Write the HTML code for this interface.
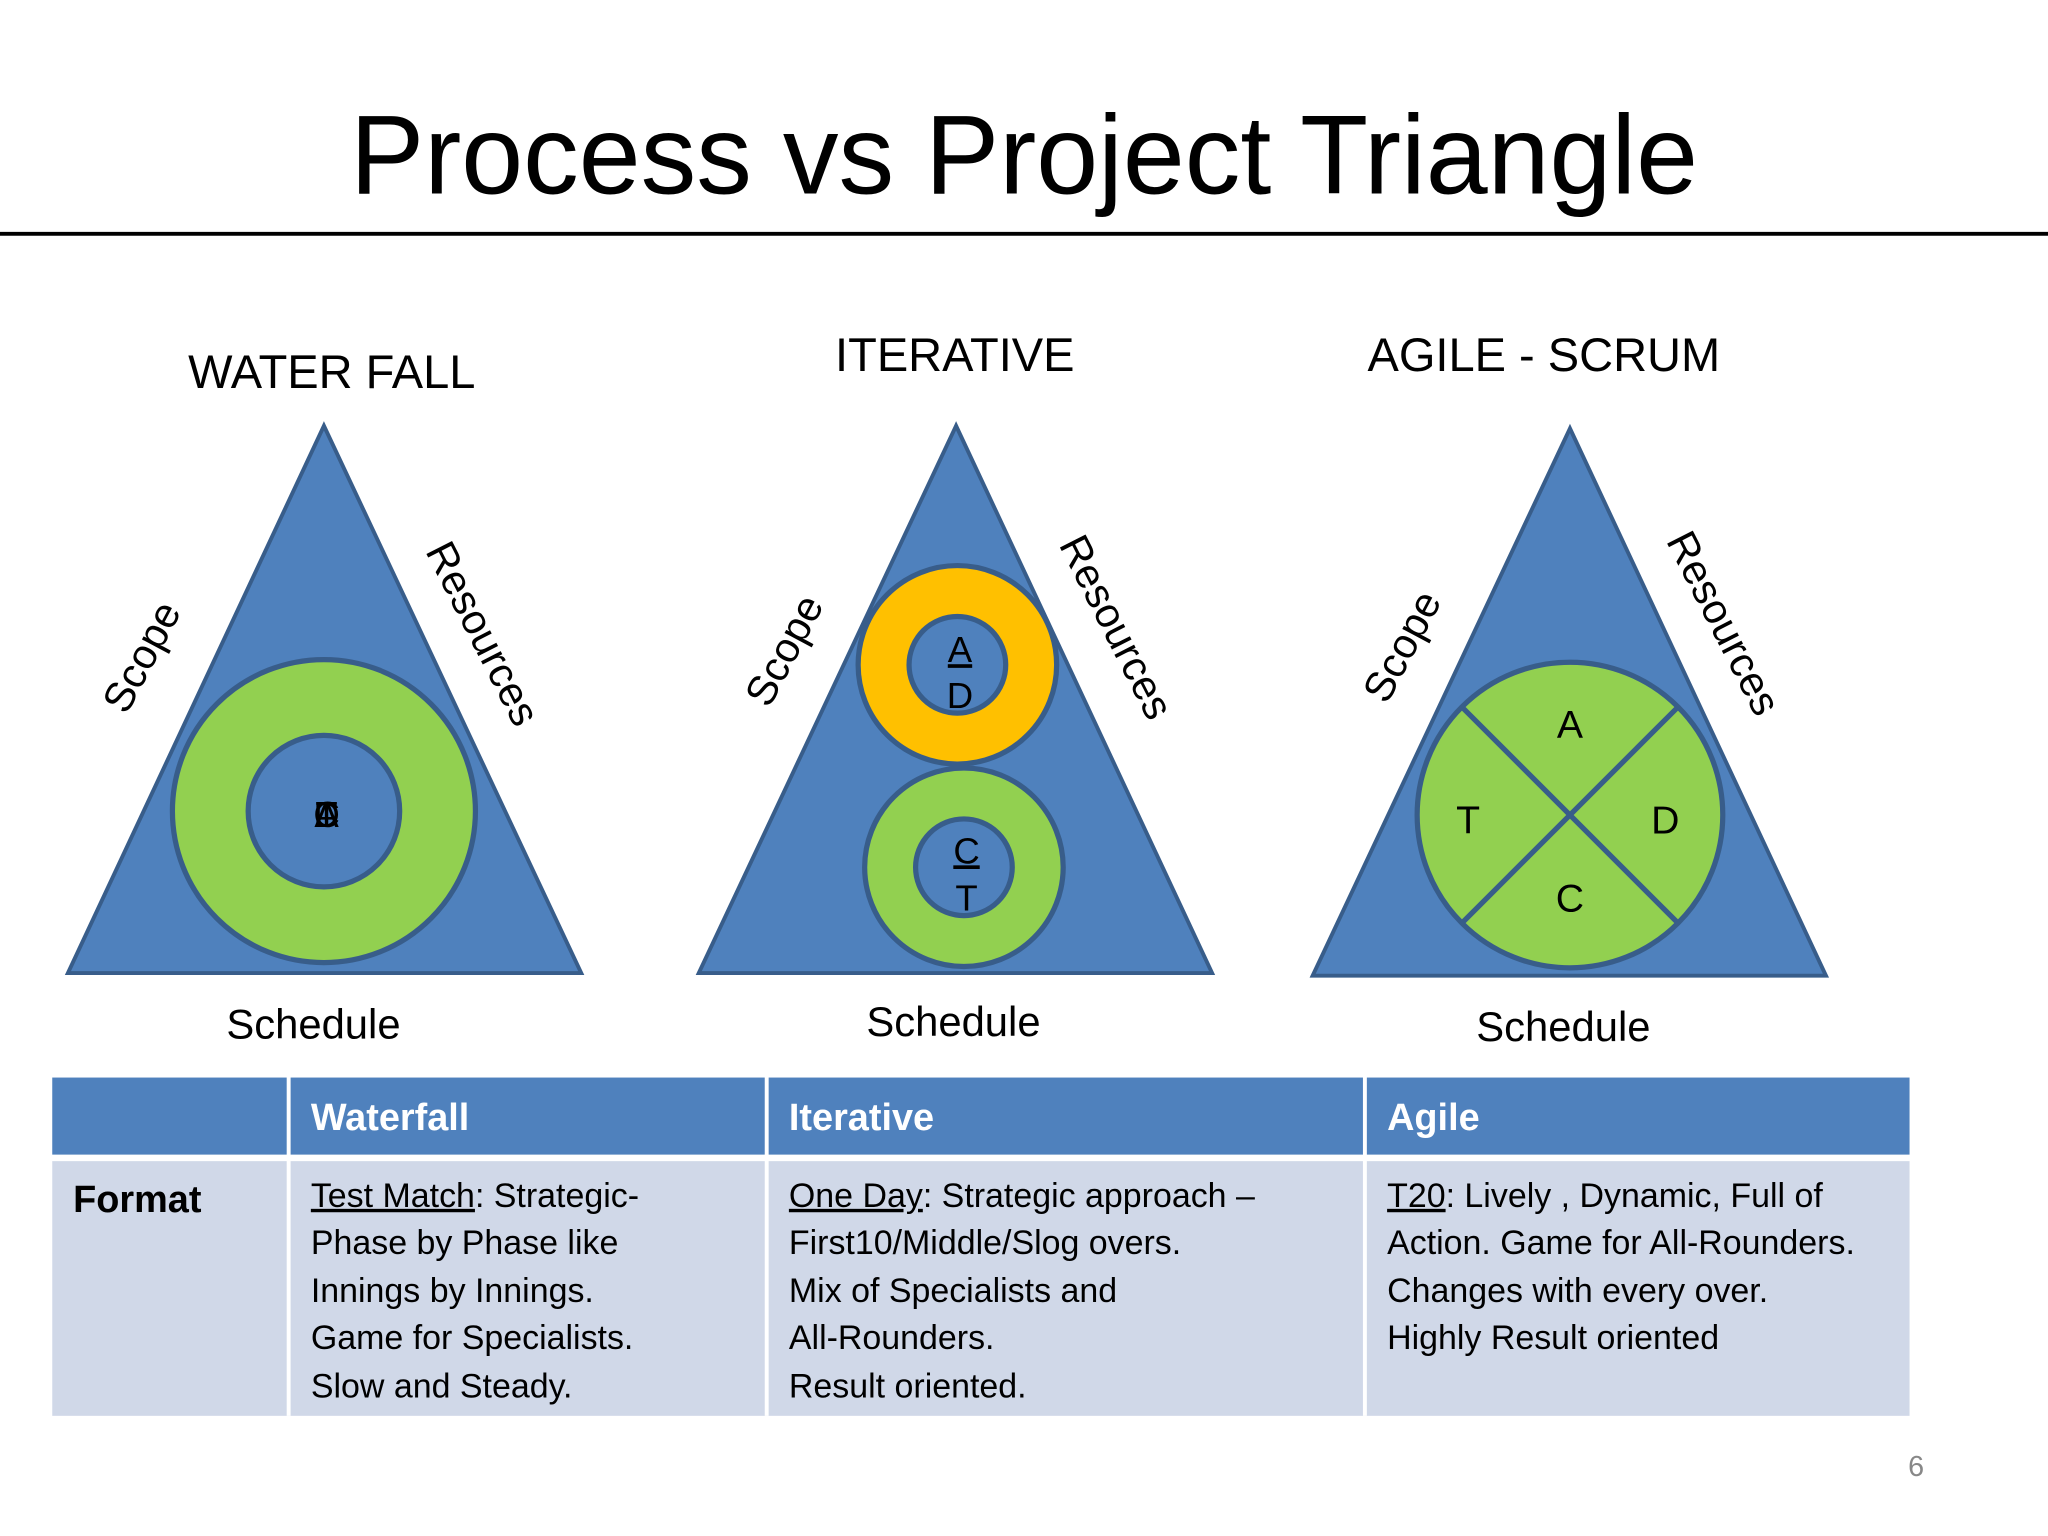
<!DOCTYPE html>
<html><head><meta charset="utf-8"><style>html,body{margin:0;padding:0;background:#fff}svg{display:block}</style></head>
<body>
<svg width="2048" height="1536" viewBox="0 0 1568 1176" xmlns="http://www.w3.org/2000/svg" font-family="'Liberation Sans', sans-serif">
<rect width="1568" height="1176" fill="#fff"/>
<text x="784" y="148" font-size="86" text-anchor="middle" textLength="1032" lengthAdjust="spacingAndGlyphs">Process vs Project Triangle</text>
<line x1="0" y1="179" x2="1568" y2="179" stroke="#000" stroke-width="3"/>
<g font-size="36">
<text x="254" y="297" text-anchor="middle">WATER FALL</text>
<text x="731" y="284" text-anchor="middle">ITERATIVE</text>
<text x="1182" y="284" text-anchor="middle">AGILE - SCRUM</text>
</g>
<g fill="#4f81bd" stroke="#385d8a" stroke-width="3">
<polygon points="248,326 52,745 445,745"/>
<polygon points="732,326 535,745 928,745"/>
<polygon points="1202,328 1005,747 1398,747"/>
</g>
<g stroke="#385d8a" stroke-width="4">
<circle cx="248" cy="621" r="116" fill="#92d050"/>
<circle cx="248" cy="621" r="58" fill="#4f81bd"/>
<circle cx="733" cy="509" r="76" fill="#ffc000"/>
<circle cx="733" cy="509" r="37" fill="#4f81bd"/>
<circle cx="738" cy="664" r="76" fill="#92d050"/>
<circle cx="738" cy="664" r="37" fill="#4f81bd"/>
<circle cx="1202" cy="624" r="117" fill="#92d050"/>
<line x1="1120" y1="542" x2="1284" y2="706"/>
<line x1="1284" y1="542" x2="1120" y2="706"/>
</g>
<g font-size="28" text-anchor="middle">
<text x="250" y="633">A</text><text x="250" y="633">D</text><text x="250" y="633">C</text><text x="250" y="633">T</text>
<text x="735" y="507" text-decoration="underline">A</text><text x="735" y="542">D</text>
<text x="740" y="661" text-decoration="underline">C</text><text x="740" y="697">T</text>
<text x="1202" y="565" font-size="30">A</text><text x="1124" y="638" font-size="30">T</text>
<text x="1275" y="638" font-size="30">D</text><text x="1202" y="698" font-size="30">C</text>
</g>
<g font-size="32">
<text transform="translate(118,508) rotate(-62)" text-anchor="middle">Scope</text>
<text transform="translate(360,490) rotate(63)" text-anchor="middle">Resources</text>
<text transform="translate(610,503) rotate(-62)" text-anchor="middle">Scope</text>
<text transform="translate(845,485) rotate(63)" text-anchor="middle">Resources</text>
<text transform="translate(1083,500) rotate(-62)" text-anchor="middle">Scope</text>
<text transform="translate(1310,482) rotate(63)" text-anchor="middle">Resources</text>
<text x="240" y="795" text-anchor="middle">Schedule</text>
<text x="730" y="793" text-anchor="middle">Schedule</text>
<text x="1197" y="797" text-anchor="middle">Schedule</text>
</g>
<rect x="40" y="825" width="1422" height="59" fill="#4f81bd"/>
<rect x="40" y="889" width="1422" height="195" fill="#d0d8e8"/>
<g stroke="#fff" stroke-width="3">
<line x1="221" y1="825" x2="221" y2="1084"/>
<line x1="587" y1="825" x2="587" y2="1084"/>
<line x1="1045" y1="825" x2="1045" y2="1084"/>
</g>
<g font-size="29" font-weight="bold" fill="#fff">
<text x="238" y="865">Waterfall</text><text x="604" y="865">Iterative</text><text x="1062" y="865">Agile</text>
</g>
<text x="56" y="928" font-size="29" font-weight="bold">Format</text>
<g font-size="26">
<text x="238" y="924"><tspan text-decoration="underline">Test Match</tspan>: Strategic-</text>
<text x="238" y="960">Phase by Phase like</text>
<text x="238" y="997">Innings by Innings.</text>
<text x="238" y="1033">Game for Specialists.</text>
<text x="238" y="1070">Slow and Steady.</text>
<text x="604" y="924"><tspan text-decoration="underline">One Day</tspan>: Strategic approach –</text>
<text x="604" y="960">First10/Middle/Slog overs.</text>
<text x="604" y="997">Mix of Specialists and</text>
<text x="604" y="1033">All-Rounders.</text>
<text x="604" y="1070">Result oriented.</text>
<text x="1062" y="924"><tspan text-decoration="underline">T20</tspan>: Lively , Dynamic, Full of</text>
<text x="1062" y="960">Action. Game for All-Rounders.</text>
<text x="1062" y="997">Changes with every over.</text>
<text x="1062" y="1033">Highly Result oriented</text>
</g>
<text x="1467" y="1130" font-size="22" fill="#888" text-anchor="middle">6</text>
</svg>
</body></html>
